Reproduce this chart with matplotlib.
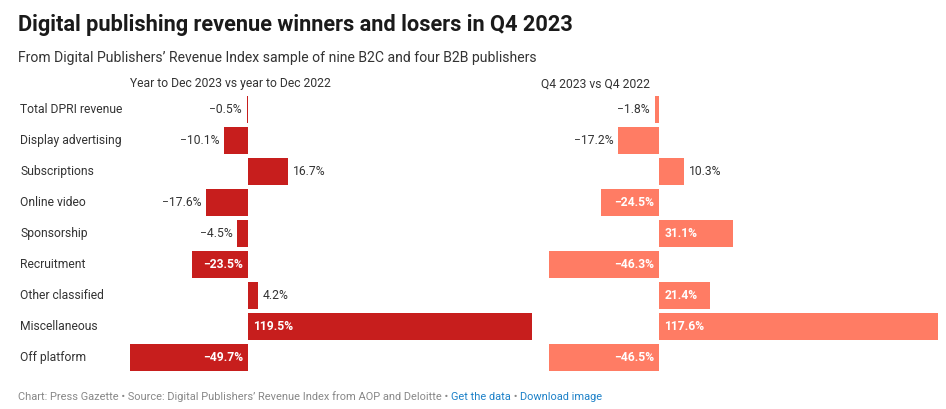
import matplotlib
matplotlib.use("Agg")
import matplotlib.pyplot as plt

plt.rcParams['font.family'] = ['Roboto', 'DejaVu Sans']

categories = ["Total DPRI revenue", "Display advertising", "Subscriptions", "Online video",
              "Sponsorship", "Recruitment", "Other classified", "Miscellaneous", "Off platform"]
year_vals = [-0.5, -10.1, 16.7, -17.6, -4.5, -23.5, 4.2, 119.5, -49.7]
q4_vals = [-1.8, -17.2, 10.3, -24.5, 31.1, -46.3, 21.4, 117.6, -46.5]
panel_titles = ["Year to Dec 2023 vs year to Dec 2022", "Q4 2023 vs Q4 2022"]

W, H = 946, 409
fig = plt.figure(figsize=(W / 100, H / 100), dpi=100)
fig.patch.set_facecolor("white")

def fx(px):
    return px / W

def fy(py):
    return 1 - py / H

TEXT = "#333333"
colors = ["#c71e1d", "#ff7c64"]
FS = 8.7

# axes pixel boxes (left, right)
boxes = [(130, 532), (549, 938)]
top_px, bot_px = 96, 370.7
n = len(categories)
bar_h = 0.87

for vals, (l, r), col in zip([year_vals, q4_vals], boxes, colors):
    ax = fig.add_axes([fx(l), fy(bot_px), fx(r - l), (bot_px - top_px) / H])
    ax.set_xlim(min(vals), max(vals))
    ax.set_ylim(n - 1 + bar_h / 2, -bar_h / 2)
    ax.axis("off")
    ys = list(range(n))
    ax.barh(ys, vals, height=bar_h, color=col, linewidth=0)
    ppu = (r - l) / (max(vals) - min(vals))
    pad = 5 / ppu
    for y, v in zip(ys, vals):
        label = f"{v:.1f}%".replace("-", "\u2212")
        if abs(v) > 20:
            if v < 0:
                ax.text(-pad, y, label, ha="right", va="center", color="white",
                        fontsize=FS, fontweight="semibold")
            else:
                ax.text(pad, y, label, ha="left", va="center", color="white",
                        fontsize=FS, fontweight="semibold")
        else:
            if v < 0:
                ax.text(v - pad, y, label, ha="right", va="center", color=TEXT, fontsize=FS)
            else:
                ax.text(v + pad, y, label, ha="left", va="center", color=TEXT, fontsize=FS)

# category labels
for i, c in enumerate(categories):
    yc = 109.3 + 31 * i
    fig.text(fx(20), fy(yc), c, ha="left", va="center", fontsize=FS, color=TEXT)

# panel titles
fig.text(fx(130), fy(84), panel_titles[0], ha="left", va="center", fontsize=FS, color=TEXT)
fig.text(fx(541), fy(84), panel_titles[1], ha="left", va="center", fontsize=FS, color=TEXT)

# title & subtitle
fig.text(fx(18), fy(25), "Digital publishing revenue winners and losers in Q4 2023",
         ha="left", va="center", fontsize=15.7, fontweight="bold", color="#1a1a1a")
fig.text(fx(18), fy(58), "From Digital Publishers\u2019 Revenue Index sample of nine B2C and four B2B publishers",
         ha="left", va="center", fontsize=10.1, color=TEXT)

# footer
gray = "#888888"
blue = "#1d81c8"
parts = [("Chart: Press Gazette \u2022 Source: Digital Publishers\u2019 Revenue Index from AOP and Deloitte \u2022 ", gray),
         ("Get the data", blue), (" \u2022 ", gray), ("Download image", blue)]
renderer = fig.canvas.get_renderer()
x = 18
for txt, c in parts:
    t = fig.text(fx(x), fy(397), txt, ha="left", va="center", fontsize=7.9, color=c)
    bb = t.get_window_extent(renderer=renderer)
    x += bb.width

fig.savefig("out.png", dpi=100, facecolor="white")
